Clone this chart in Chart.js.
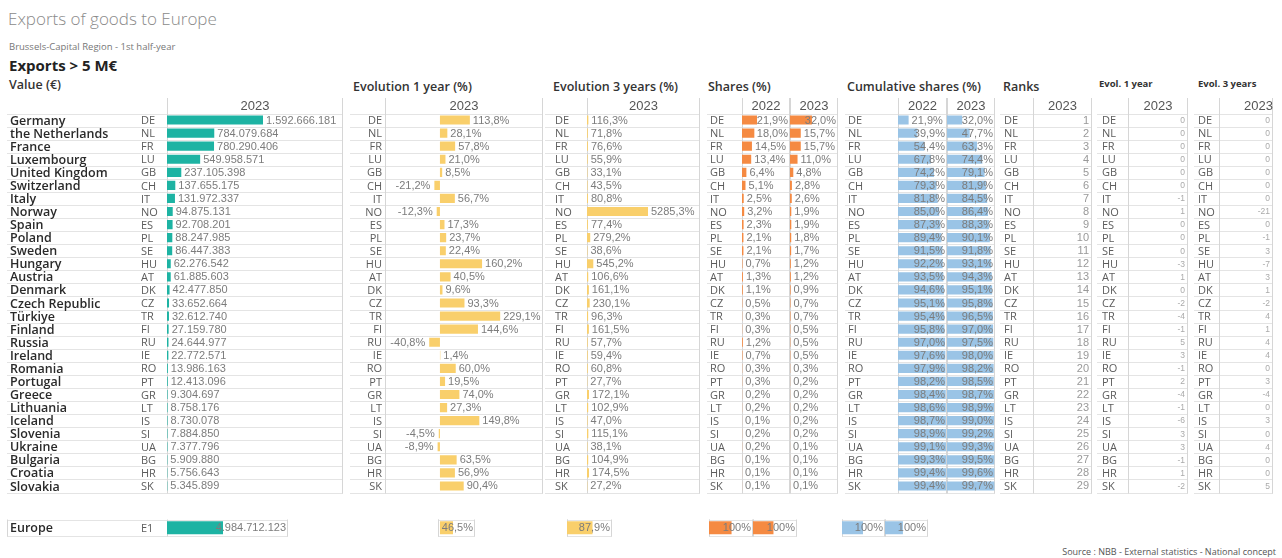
<!DOCTYPE html>
<html lang="en">
<head>
<meta charset="UTF-8" />
<title>Exports of goods to Europe</title>
<script src="https://cdn.jsdelivr.net/npm/chart.js"></script>
<style>
    body {
        margin: 0;
        width: 1282px;
        height: 558px;
        position: relative;
        overflow: hidden;
        background: #fff;
        font-family: "Open Sans", sans-serif;
    }

    .t {
        position: absolute;
        white-space: nowrap;
    }

    canvas {
        position: absolute;
    }
</style>
</head>
<body>

<div class="t" style="left:8px;top:10px;font-size:17px;line-height:17px;font-weight:300;color:#8a8a8a;">Exports of goods to Europe</div>
<div class="t" style="left:9px;top:42px;font-size:9.5px;line-height:9.5px;color:#777;">Brussels-Capital Region - 1st half-year</div>
<div class="t" style="left:9px;top:58px;font-size:15px;line-height:15px;font-weight:700;color:#222;">Exports &gt; 5 M€</div>
<div class="t" style="left:9px;top:79px;font-size:12.5px;line-height:12.5px;font-weight:600;color:#333;">Value (€)</div>
<div class="t" style="left:353px;top:81px;font-size:12.5px;line-height:12.5px;font-weight:600;color:#333;">Evolution 1 year (%)</div>
<div class="t" style="left:553px;top:81px;font-size:12.5px;line-height:12.5px;font-weight:600;color:#333;">Evolution 3 years (%)</div>
<div class="t" style="left:708px;top:81px;font-size:12.5px;line-height:12.5px;font-weight:600;color:#333;">Shares (%)</div>
<div class="t" style="left:847px;top:81px;font-size:12.5px;line-height:12.5px;font-weight:600;color:#333;">Cumulative shares (%)</div>
<div class="t" style="left:1003px;top:81px;font-size:12.5px;line-height:12.5px;font-weight:600;color:#333;">Ranks</div>
<div class="t" style="left:1099px;top:79px;font-size:9.5px;line-height:9.5px;font-weight:700;color:#333;">Evol. 1 year</div>
<div class="t" style="left:1198px;top:79px;font-size:9.5px;line-height:9.5px;font-weight:700;color:#333;">Evol. 3 years</div>
<div class="t" style="right:6px;top:547px;font-size:9px;line-height:9px;color:#555;">Source : NBB - External statistics - National concept</div>

<script>
    const countries = ['Germany', 'the Netherlands', 'France', 'Luxembourg', 'United Kingdom', 'Switzerland', 'Italy', 'Norway', 'Spain', 'Poland',
        'Sweden', 'Hungary', 'Austria', 'Denmark', 'Czech Republic', 'Türkiye', 'Finland', 'Russia', 'Ireland', 'Romania',
        'Portugal', 'Greece', 'Lithuania', 'Iceland', 'Slovenia', 'Ukraine', 'Bulgaria', 'Croatia', 'Slovakia'];
    const codes = ['DE', 'NL', 'FR', 'LU', 'GB', 'CH', 'IT', 'NO', 'ES', 'PL', 'SE', 'HU', 'AT', 'DK', 'CZ', 'TR', 'FI', 'RU', 'IE', 'RO',
        'PT', 'GR', 'LT', 'IS', 'SI', 'UA', 'BG', 'HR', 'SK'];
    const value2023 = [1592666181, 784079684, 780290406, 549958571, 237105398, 137655175, 131972337, 94875131, 92708201, 88247985,
        86447383, 62276542, 61885603, 42477850, 33652664, 32612740, 27159780, 24644977, 22772571, 13986163,
        12413096, 9304697, 8758176, 8730078, 7884850, 7377796, 5909880, 5756643, 5345899];
    const evol1y = [113.8, 28.1, 57.8, 21.0, 8.5, -21.2, 56.7, -12.3, 17.3, 23.7, 22.4, 160.2, 40.5, 9.6, 93.3, 229.1, 144.6, -40.8, 1.4, 60.0,
        19.5, 74.0, 27.3, 149.8, -4.5, -8.9, 63.5, 56.9, 90.4];
    const evol3y = [116.3, 71.8, 76.6, 55.9, 33.1, 43.5, 80.8, 5285.3, 77.4, 279.2, 38.6, 545.2, 106.6, 161.1, 230.1, 96.3, 161.5, 57.7, 59.4, 60.8,
        27.7, 172.1, 102.9, 47.0, 115.1, 38.1, 104.9, 174.5, 27.2];
    const share2022 = [21.9, 18.0, 14.5, 13.4, 6.4, 5.1, 2.5, 3.2, 2.3, 2.1, 2.1, 0.7, 1.3, 1.1, 0.5, 0.3, 0.3, 1.2, 0.7, 0.3,
        0.3, 0.2, 0.2, 0.1, 0.2, 0.2, 0.1, 0.1, 0.1];
    const share2023 = [32.0, 15.7, 15.7, 11.0, 4.8, 2.8, 2.6, 1.9, 1.9, 1.8, 1.7, 1.2, 1.2, 0.9, 0.7, 0.7, 0.5, 0.5, 0.5, 0.3,
        0.2, 0.2, 0.2, 0.2, 0.2, 0.1, 0.1, 0.1, 0.1];
    const cumShare2022 = [21.9, 39.9, 54.4, 67.8, 74.2, 79.3, 81.8, 85.0, 87.3, 89.4, 91.5, 92.2, 93.5, 94.6, 95.1, 95.4, 95.8, 97.0, 97.6, 97.9,
        98.2, 98.4, 98.6, 98.7, 98.9, 99.1, 99.3, 99.4, 99.4];
    const cumShare2023 = [32.0, 47.7, 63.3, 74.4, 79.1, 81.9, 84.5, 86.4, 88.3, 90.1, 91.8, 93.1, 94.3, 95.1, 95.8, 96.5, 97.0, 97.5, 98.0, 98.2,
        98.5, 98.7, 98.9, 99.0, 99.2, 99.3, 99.5, 99.6, 99.7];
    const rank2023 = [1, 2, 3, 4, 5, 6, 7, 8, 9, 10, 11, 12, 13, 14, 15, 16, 17, 18, 19, 20,
        21, 22, 23, 24, 25, 26, 27, 28, 29];
    const rankEvol1y = [0, 0, 0, 0, 0, 0, -1, 1, 0, 0, 0, -3, 1, 0, -2, -4, -1, 5, 3, -1,
        2, -4, -1, -6, 3, 3, -1, 1, -2];
    const rankEvol3y = [0, 0, 0, 0, 0, 0, 0, -21, 0, -1, 3, -7, 3, 1, -2, 4, 1, 4, 4, 0,
        3, -4, 0, 3, 0, 4, 0, 0, 5];

    const europeName = ['Europe'];
    const europeCode = ['E1'];
    const europeValue = [4984712123];
    const europeEvol1y = [46.5];
    const europeEvol3y = [87.9];
    const europeShare2022 = [100];
    const europeShare2023 = [100];
    const europeCum2022 = [100];
    const europeCum2023 = [100];

    const TEAL = '#1db3a3';
    const YELLOW = '#f9cf6b';
    const ORANGE = '#f58a42';
    const BLUE = '#9ac4e6';

    const fmtInt = v => String(v).replace(/\B(?=(\d{3})+(?!\d))/g, '.');
    const fmtPct = v => v.toFixed(1).replace('.', ',') + '%';
    const fmtPct0 = v => v + '%';
    const fmtRank = v => String(v);

    // row lines + column borders (under the axis labels), then value labels on top
    const framePlugin = {
        id: 'frame',
        beforeDraw(chart, args, opts) {
            const { ctx, chartArea: ca } = chart;
            const n = chart.scales.y.getLabels().length;
            const step = (ca.bottom - ca.top) / n;
            ctx.save();
            ctx.lineWidth = 1;
            ctx.strokeStyle = '#e4e4e4';
            for (let i = 0; i <= n; i++) {
                const yy = Math.round(ca.top + i * step) + 0.5;
                ctx.beginPath();
                ctx.moveTo(opts.x0, yy);
                ctx.lineTo(ca.right, yy);
                ctx.stroke();
            }
            ctx.strokeStyle = '#d6d6d6';
            const xs = [Math.floor(ca.left) + 0.5, Math.ceil(ca.right) - 0.5];
            if (opts.leftEdge) xs.push(opts.x0 + 0.5);
            xs.forEach(x => {
                ctx.beginPath();
                ctx.moveTo(x, opts.headTop);
                ctx.lineTo(x, Math.round(ca.bottom) + 0.5);
                ctx.stroke();
            });
            ctx.restore();
        },
        afterDatasetsDraw(chart, args, opts) {
            const { ctx, chartArea: ca } = chart;
            const meta = chart.getDatasetMeta(0);
            const data = chart.data.datasets[0].data;
            ctx.save();
            ctx.font = opts.font;
            ctx.fillStyle = opts.color;
            ctx.textBaseline = 'middle';
            ctx.textAlign = 'left';
            meta.data.forEach((el, i) => {
                const v = data[i];
                const txt = opts.fmt(v);
                const w = ctx.measureText(txt).width;
                let x;
                if (opts.mode === 'right') {
                    x = ca.right - 3 - w;
                } else if (v < 0) {
                    x = el.x - 4 - w;
                } else {
                    x = el.x + 3;
                    if (x + w > ca.right - 2) x = ca.right - 2 - w;
                }
                ctx.fillText(txt, x, el.y + 0.5);
            });
            ctx.restore();
        }
    };

    // label axes must not push the plot area in
    const noPad = s => {
        s.paddingTop = 0;
        s.paddingBottom = 0;
    };

    function makeChart(o) {
        const cv = document.createElement('canvas');
        cv.width = o.w;
        cv.height = o.h;
        cv.style.left = o.x + 'px';
        cv.style.top = o.y + 'px';
        cv.style.width = o.w + 'px';
        cv.style.height = o.h + 'px';
        document.body.appendChild(cv);

        const codeTicks = {
            autoSkip: false,
            crossAlign: o.codeAlign || 'far',
            padding: o.codeAlign === 'near' ? 3 : 0,
            labelOffset: 1,
            color: '#5c5c5c',
            font: { family: 'Open Sans', size: 11 }
        };

        const scales = {
            x: {
                type: 'linear',
                position: 'top',
                min: o.min,
                max: o.max,
                display: !!o.header,
                ticks: { display: false },
                grid: { display: false, drawTicks: false },
                border: { display: false },
                title: {
                    display: !!o.header,
                    text: o.header,
                    align: o.headerAlign || 'center',
                    color: '#555',
                    font: { family: 'Liberation Sans', size: 13 },
                    padding: { top: 7, bottom: 0 }
                },
                afterFit: s => { s.height = o.headH; }
            },
            y: {
                type: 'category',
                display: o.codeW > 0,
                offset: true,
                grid: { display: false, drawTicks: false },
                border: { display: false },
                ticks: codeTicks,
                weight: 0,
                afterFit: s => { s.width = o.codeW; noPad(s); }
            }
        };
        if (o.names) {
            scales.yn = {
                type: 'category',
                labels: o.names,
                position: 'left',
                offset: true,
                weight: 1,
                grid: { display: false, drawTicks: false },
                border: { display: false },
                ticks: {
                    autoSkip: false,
                    crossAlign: 'far',
                    padding: 0,
                    labelOffset: 1,
                    color: '#2a2a2a',
                    font: { family: 'Open Sans', size: 12.5, weight: '600' }
                },
                afterFit: s => { s.width = o.nameW; noPad(s); }
            };
        }

        return new Chart(cv, {
            type: 'bar',
            data: {
                labels: o.codes,
                datasets: [{
                    data: o.data,
                    backgroundColor: o.color,
                    borderWidth: 0,
                    barPercentage: o.barPct || 0.7,
                    categoryPercentage: 1
                }]
            },
            options: {
                indexAxis: 'y',
                responsive: false,
                animation: false,
                events: [],
                layout: { padding: { left: o.padL || 0, right: 1, top: o.padT || 0, bottom: o.padB } },
                scales,
                plugins: {
                    legend: { display: false },
                    tooltip: { enabled: false },
                    frame: {
                        x0: o.lineX - o.x,
                        headTop: o.headTop - o.y,
                        leftEdge: !!o.leftEdge,
                        fmt: o.fmt,
                        mode: o.mode || 'end',
                        font: o.lblFont || '11px "Liberation Sans"',
                        color: o.lblColor || '#7c7c7c'
                    }
                }
            },
            plugins: [framePlugin]
        });
    }

    // main table: chart area rows 113.5 - 492.5
    const main = { y: 92, h: 402, headH: 21.5, padB: 1.5, headTop: 98 };

    makeChart({ ...main, x: 7, w: 337, padL: 3, names: countries, nameW: 131, codes, codeW: 26, lineX: 7,
        data: value2023, color: TEAL, min: 0, max: 2.92e9, header: '2023', fmt: fmtInt });

    makeChart({ ...main, x: 350, w: 194, codes, codeW: 35, codeAlign: 'near', lineX: 350,
        data: evol1y, color: YELLOW, min: -209, max: 392, header: '2023', fmt: fmtPct });

    makeChart({ ...main, x: 545, w: 156, padL: 10, codes, codeW: 32, lineX: 545,
        data: evol3y, color: YELLOW, min: 0, max: 9790, header: '2023', fmt: fmtPct });

    makeChart({ ...main, x: 707, w: 84, padL: 3, codes, codeW: 32, lineX: 707,
        data: share2022, color: ORANGE, min: 0, max: 70, header: '2022', fmt: fmtPct });
    makeChart({ ...main, x: 790, w: 49, codes, codeW: 0, lineX: 790,
        data: share2023, color: ORANGE, min: 0, max: 70, header: '2023', fmt: fmtPct });

    makeChart({ ...main, x: 845, w: 103, padL: 3, codes, codeW: 50, lineX: 845,
        data: cumShare2022, color: BLUE, min: 0, max: 101, header: '2022', fmt: fmtPct });
    makeChart({ ...main, x: 947, w: 49, codes, codeW: 0, lineX: 947,
        data: cumShare2023, color: BLUE, min: 0, max: 101, header: '2023', fmt: fmtPct });

    makeChart({ ...main, x: 1000, w: 93, padL: 4, codes, codeW: 29, lineX: 1000,
        data: rank2023, color: 'rgba(0,0,0,0)', min: 0, max: 30, header: '2023', fmt: fmtRank,
        mode: 'right', lblFont: '11px "Liberation Sans"', lblColor: '#999' });
    makeChart({ ...main, x: 1097, w: 92, padL: 5, codes, codeW: 26, lineX: 1097,
        data: rankEvol1y, color: 'rgba(0,0,0,0)', min: -30, max: 30, header: '2023', fmt: fmtRank,
        mode: 'right', lblFont: '8.5px "Liberation Sans"', lblColor: '#aaa' });
    makeChart({ ...main, x: 1194, w: 80, padL: 4, codes, codeW: 21, lineX: 1194,
        data: rankEvol3y, color: 'rgba(0,0,0,0)', min: -30, max: 30, header: '2023', headerAlign: 'end', fmt: fmtRank,
        mode: 'right', lblFont: '8.5px "Liberation Sans"', lblColor: '#aaa' });

    // Europe total row: chart area 519.5 - 536
    const eu = { y: 514, h: 28, headH: 0, padT: 5.5, padB: 6, headTop: 519.5, leftEdge: true, barPct: 0.8 };

    makeChart({ ...eu, x: 7, w: 282, padL: 3, names: europeName, nameW: 131, codes: europeCode, codeW: 26, lineX: 7,
        data: europeValue, color: TEAL, min: 0, max: 10.77e9, fmt: fmtInt });
    makeChart({ ...eu, x: 438, w: 38, codes: europeCode, codeW: 0, lineX: 438,
        data: europeEvol1y, color: YELLOW, min: -7, max: 125, fmt: fmtPct });
    makeChart({ ...eu, x: 567, w: 46, codes: europeCode, codeW: 0, lineX: 567,
        data: europeEvol3y, color: YELLOW, min: 0, max: 155, fmt: fmtPct });
    makeChart({ ...eu, x: 709, w: 45, codes: europeCode, codeW: 0, lineX: 709,
        data: europeShare2022, color: ORANGE, min: 0, max: 195, fmt: fmtPct0 });
    makeChart({ ...eu, x: 753, w: 45, codes: europeCode, codeW: 0, lineX: 753,
        data: europeShare2023, color: ORANGE, min: 0, max: 215, fmt: fmtPct0 });
    makeChart({ ...eu, x: 842, w: 44, codes: europeCode, codeW: 0, lineX: 842,
        data: europeCum2022, color: BLUE, min: 0, max: 205, fmt: fmtPct0 });
    makeChart({ ...eu, x: 885, w: 44, codes: europeCode, codeW: 0, lineX: 885,
        data: europeCum2023, color: BLUE, min: 0, max: 240, fmt: fmtPct0 });
</script>

</body>
</html>
